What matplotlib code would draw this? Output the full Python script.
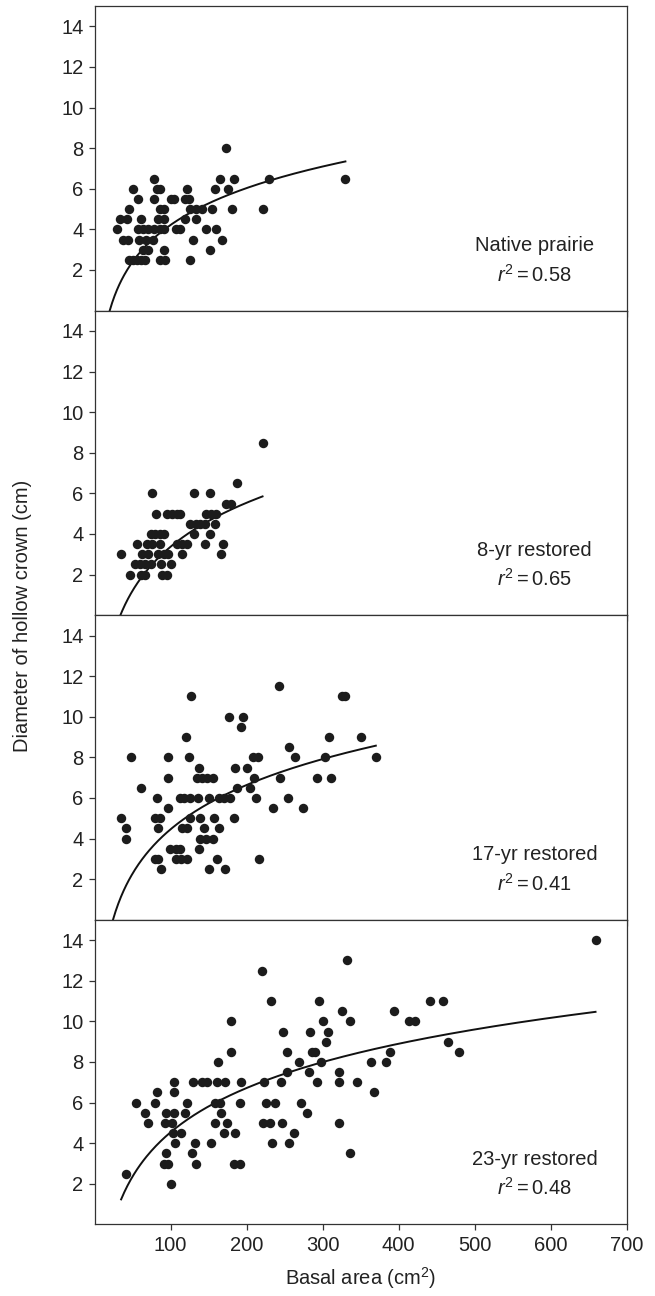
import numpy as np
import matplotlib.pyplot as plt

plt.rcParams['font.family'] = ['Liberation Sans', 'DejaVu Sans']
plt.rcParams['mathtext.fontset'] = 'custom'
plt.rcParams['mathtext.rm'] = 'Liberation Sans'
plt.rcParams['mathtext.it'] = 'Liberation Sans:italic'

# ---------------------------------------------------
# Native prairie
x_native = [173,
            78, 165, 183, 230, 330,
            50, 82, 86, 121, 159, 175,
            57, 78, 100, 105, 119, 124,
            45, 86, 91, 125, 133, 142, 154, 181, 222,
            34, 43, 61, 83, 91, 119, 133,
            30, 57, 64, 70, 78, 86, 92, 107, 113, 146, 160,
            38, 44, 59, 68, 77, 130, 168,
            64, 70, 91, 152,
            45, 50, 56, 61, 67, 86, 93, 126]
y_native = [8,
            6.5, 6.5, 6.5, 6.5, 6.5,
            6, 6, 6, 6, 6, 6,
            5.5, 5.5, 5.5, 5.5, 5.5, 5.5,
            5, 5, 5, 5, 5, 5, 5, 5, 5,
            4.5, 4.5, 4.5, 4.5, 4.5, 4.5, 4.5,
            4, 4, 4, 4, 4, 4, 4, 4, 4, 4, 4,
            3.5, 3.5, 3.5, 3.5, 3.5, 3.5, 3.5,
            3, 3, 3, 3,
            2.5, 2.5, 2.5, 2.5, 2.5, 2.5, 2.5, 2.5]

# 8-yr restored
x_8yr = [221,
         187,
         75, 131, 152,
         173, 180,
         81, 95, 102, 108, 113, 147, 153, 160,
         125, 133, 139, 145, 158,
         74, 80, 86, 92, 131, 152,
         56, 69, 75, 86, 108, 115, 121, 145, 169,
         35, 63, 70, 83, 91, 97, 115, 166,
         53, 60, 67, 74, 88, 101,
         47, 61, 67, 89, 95]
y_8yr = [8.5,
         6.5,
         6, 6, 6,
         5.5, 5.5,
         5, 5, 5, 5, 5, 5, 5, 5,
         4.5, 4.5, 4.5, 4.5, 4.5,
         4, 4, 4, 4, 4, 4,
         3.5, 3.5, 3.5, 3.5, 3.5, 3.5, 3.5, 3.5, 3.5,
         3, 3, 3, 3, 3, 3, 3, 3,
         2.5, 2.5, 2.5, 2.5, 2.5, 2.5,
         2, 2, 2, 2, 2]

# 17-yr restored
x_17yr = [242,
          127, 325, 330,
          177, 195,
          193,
          120, 308, 351,
          256,
          48, 97, 124, 208, 215, 264, 303, 370,
          138, 185, 201,
          97, 135, 142, 148, 156, 210, 244, 292, 311,
          61, 188, 205,
          82, 112, 118, 125, 136, 150, 164, 170, 178, 212, 254,
          96, 235, 274,
          35, 80, 86, 125, 139, 157, 183,
          42, 83, 115, 121, 144, 164,
          42, 139, 147, 156,
          99, 107, 113, 137,
          80, 84, 107, 114, 121, 161, 216,
          87, 151, 172]
y_17yr = [11.5,
          11, 11, 11,
          10, 10,
          9.5,
          9, 9, 9,
          8.5,
          8, 8, 8, 8, 8, 8, 8, 8,
          7.5, 7.5, 7.5,
          7, 7, 7, 7, 7, 7, 7, 7, 7,
          6.5, 6.5, 6.5,
          6, 6, 6, 6, 6, 6, 6, 6, 6, 6, 6,
          5.5, 5.5, 5.5,
          5, 5, 5, 5, 5, 5, 5,
          4.5, 4.5, 4.5, 4.5, 4.5, 4.5,
          4, 4, 4, 4,
          3.5, 3.5, 3.5, 3.5,
          3, 3, 3, 3, 3, 3, 3,
          2.5, 2.5, 2.5]

# 23-yr restored
x_23yr = [659,
          332,
          220,
          232, 295, 441, 459,
          325, 394,
          180, 300, 336, 413, 422,
          248, 284, 307,
          305, 465,
          179, 253, 286, 290, 388, 480,
          163, 269, 298, 364, 384,
          253, 282, 322,
          105, 130, 142, 148, 161, 171, 193, 223, 245, 293, 322, 345,
          82, 104, 367,
          55, 80, 121, 158, 165, 192, 226, 237, 272,
          67, 94, 105, 119, 167, 280,
          70, 93, 102, 159, 174, 221, 231, 246, 322,
          103, 114, 170, 185, 263,
          106, 132, 153, 233, 256,
          94, 128, 336,
          92, 97, 133, 184, 192,
          42,
          100]
y_23yr = [14,
          13,
          12.5,
          11, 11, 11, 11,
          10.5, 10.5,
          10, 10, 10, 10, 10,
          9.5, 9.5, 9.5,
          9, 9,
          8.5, 8.5, 8.5, 8.5, 8.5, 8.5,
          8, 8, 8, 8, 8,
          7.5, 7.5, 7.5,
          7, 7, 7, 7, 7, 7, 7, 7, 7, 7, 7, 7,
          6.5, 6.5, 6.5,
          6, 6, 6, 6, 6, 6, 6, 6, 6,
          5.5, 5.5, 5.5, 5.5, 5.5, 5.5,
          5, 5, 5, 5, 5, 5, 5, 5, 5,
          4.5, 4.5, 4.5, 4.5, 4.5,
          4, 4, 4, 4, 4,
          3.5, 3.5, 3.5,
          3, 3, 3, 3, 3,
          2.5,
          2]

names = ['Native prairie', '8-yr restored', '17-yr restored', '23-yr restored']
r2_labels = ['0.58', '0.65', '0.41', '0.48']

# courbes publiees y = a + b ln(x)
fit_a = [-7.85, -11.02, -10.04, -9.95]
fit_b = [2.62, 3.125, 3.148, 3.146]
fit_start = [18, 30, 22, 35]

xs = [x_native, x_8yr, x_17yr, x_23yr]
ys = [y_native, y_8yr, y_17yr, y_23yr]

# ---------------------------------------------------
fig, axes = plt.subplots(4, 1, sharex=True, figsize=(6.55, 12.96), dpi=100)
fig.subplots_adjust(left=0.1443, right=0.9568, top=0.9954, bottom=0.0552, hspace=0)

for i, ax in enumerate(axes):
    x = np.array(xs[i], dtype=float)
    y = np.array(ys[i], dtype=float)
    ax.plot(x, y, 'o', color='#1c1c1c', ms=6.8, mec='none', zorder=3)

    xf = np.linspace(fit_start[i], x.max(), 300)
    ax.plot(xf, fit_a[i] + fit_b[i] * np.log(xf), color='#111111', lw=1.4, zorder=2)

    ax.text(579, 3.2, names[i], ha='center', va='center', fontsize=14.5, color='#222222')
    ax.text(579, 1.78, r'$r^2 = %s$' % r2_labels[i], ha='center', va='center',
            fontsize=14.5, color='#222222')

    ax.set_xlim(0, 700)
    ax.set_ylim(0, 15)
    ax.set_yticks([2, 4, 6, 8, 10, 12, 14])
    ax.set_xticks([100, 200, 300, 400, 500, 600, 700])
    ax.tick_params(direction='out', length=4.5, width=0.9, color='#333333',
                   labelsize=14.5, labelcolor='#222222')
    for s in ax.spines.values():
        s.set_linewidth(0.9)
        s.set_color('#333333')

fig.text(0.034, 0.525, 'Diameter of hollow crown (cm)', rotation=90,
         ha='center', va='center', fontsize=14.5, color='#222222')
fig.text(0.5506, 0.0139, r'Basal area (cm$^2$)', ha='center', va='center',
         fontsize=14.5, color='#222222')

plt.savefig('out.png', dpi=100)
